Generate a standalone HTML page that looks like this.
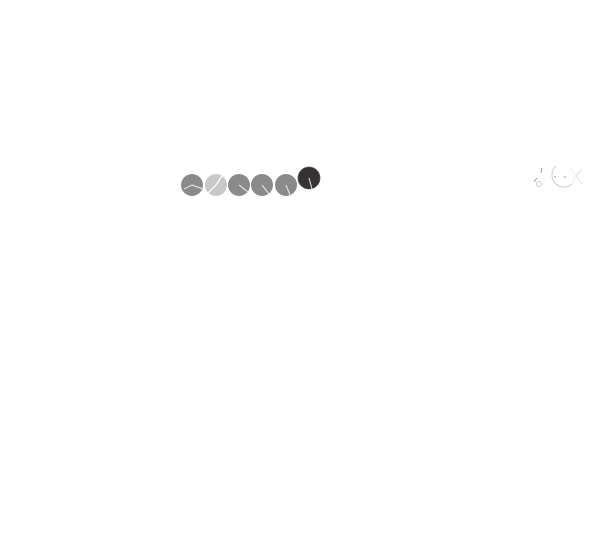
<!DOCTYPE html>
<html><head><style>body{margin:0;background:#fff;width:600px;height:529px;overflow:hidden}</style></head>
<body>
<svg width="600" height="529" viewBox="0 0 600 529" xmlns="http://www.w3.org/2000/svg">
<g stroke="#fff" stroke-width="1.2">
<circle cx="192" cy="185" r="11" fill="#8a8a8a" stroke="none"/>
<line x1="192" y1="185" x2="203" y2="189" stroke="#ddd"/>
<line x1="192" y1="185" x2="184" y2="189" stroke="#ddd"/>
<circle cx="216" cy="185" r="11" fill="#c8c8c8" stroke="none"/>
<line x1="216" y1="185" x2="222" y2="176"/>
<line x1="216" y1="185" x2="208" y2="193"/>
<circle cx="239" cy="185" r="11" fill="#8a8a8a" stroke="none"/>
<line x1="239" y1="185" x2="248" y2="192" stroke="#ddd"/>
<circle cx="262" cy="185" r="11" fill="#8a8a8a" stroke="none"/>
<line x1="262" y1="185" x2="269" y2="194" stroke="#ddd"/>
<circle cx="286" cy="185" r="11" fill="#8a8a8a" stroke="none"/>
<line x1="286" y1="185" x2="290" y2="195" stroke="#ddd"/>
<circle cx="309" cy="178" r="11" fill="#363232" stroke="#555" stroke-width="0.8"/>
<line x1="309" y1="178" x2="312" y2="189" stroke="#ccc"/>
</g>
<g fill="none" stroke="#ccc" stroke-width="1">
<path d="M556 166 A11 11 0 1 0 572 184"/>
<path d="M572 184 A11 11 0 0 0 570 168" stroke="#eee"/>
<circle cx="539" cy="184" r="2.5"/>
<line x1="541" y1="173" x2="542" y2="168" stroke="#999"/>
<line x1="534" y1="182" x2="537" y2="178" stroke="#999"/>
<line x1="576" y1="176" x2="582" y2="169" stroke="#ddd"/>
<line x1="576" y1="176" x2="582" y2="184" stroke="#ddd"/>
<circle cx="555" cy="177" r="0.7" fill="#bbb"/>
<circle cx="565" cy="177" r="0.7" fill="#bbb"/>
</g>
</svg>
</body></html>
